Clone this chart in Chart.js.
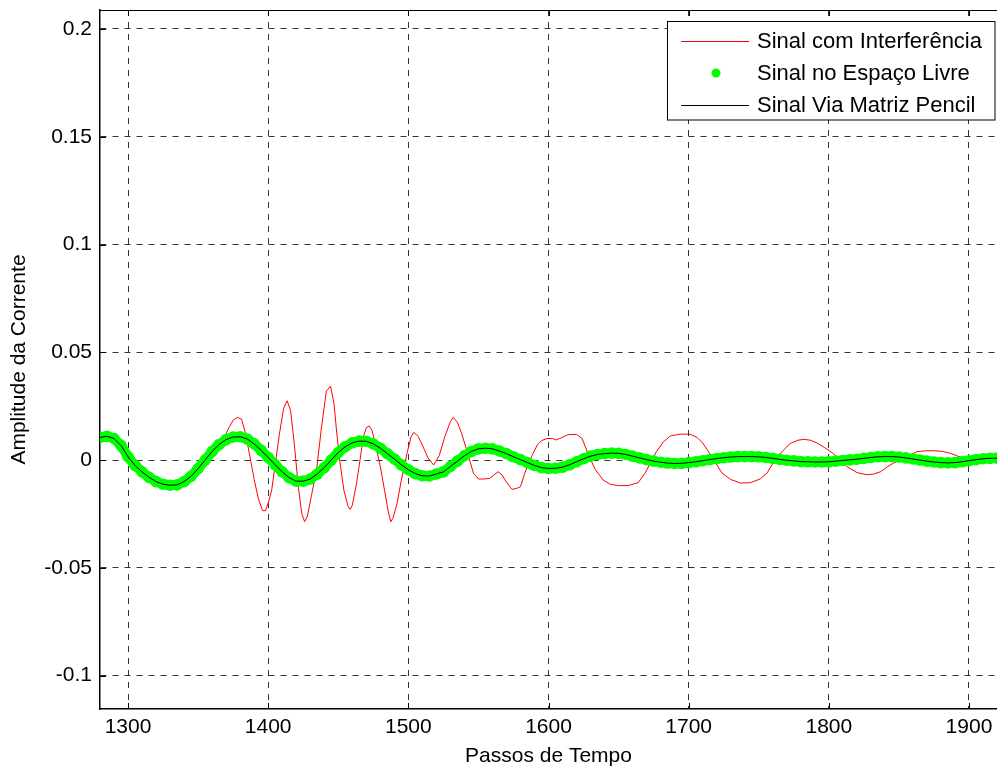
<!DOCTYPE html>
<html lang="pt">
<head>
<meta charset="UTF-8">
<title>Amplitude da Corrente</title>
<script src="https://cdn.jsdelivr.net/npm/chart.js@4.4.0/dist/chart.umd.min.js"></script>
<style>
    body { margin: 0; background: #fff; }
    canvas { display: block; }
</style>
</head>
<body>
<canvas id="sinal" width="997" height="771"></canvas>
<script>
// ticks
const xTicks = [1300, 1400, 1500, 1600, 1700, 1800, 1900];
const yTicks = [-0.1, -0.05, 0, 0.05, 0.1, 0.15, 0.2];

// free space signal, one value every 5 time steps from 1280 to 1920
const freeSteps = [];
for (let s = 1280; s <= 1920; s += 5) freeSteps.push(s);
const freeSpaceValues = [
    0.0105, 0.0110, 0.0100, 0.0068, 0.0015, -0.0025, -0.0055, -0.0080, -0.0100, -0.0112,
    -0.0117, -0.0115, -0.0100, -0.0075, -0.0040, 0.0000, 0.0040, 0.0072, 0.0095, 0.0107,
    0.0108, 0.0098, 0.0075, 0.0045, 0.0012, -0.0022, -0.0055, -0.0082, -0.0098, -0.0098,
    -0.0088, -0.0065, -0.0035, 0.0000, 0.0035, 0.0062, 0.0080, 0.0088, 0.0087, 0.0075,
    0.0055, 0.0030, 0.0005, -0.0022, -0.0045, -0.0063, -0.0073, -0.0074, -0.0065, -0.0055,
    -0.0030, -0.0005, 0.0020, 0.0040, 0.0052, 0.0055, 0.0052, 0.0042, 0.0030, 0.0015,
    0.0002, -0.0012, -0.0025, -0.0035, -0.0039, -0.0038, -0.0033, -0.0022, -0.0008, 0.0006,
    0.0018, 0.0026, 0.0030, 0.0032, 0.0031, 0.0026, 0.0018, 0.0010, 0.0002, -0.0005,
    -0.0010, -0.0014, -0.0016, -0.0015, -0.0012, -0.0008, -0.0003, 0.0002, 0.0007, 0.0011,
    0.0014, 0.0016, 0.0016, 0.0016, 0.0015, 0.0012, 0.0008, 0.0003, -0.0001, -0.0004,
    -0.0007, -0.0008, -0.0009, -0.0009, -0.0008, -0.0005, -0.0002, 0.0001, 0.0004, 0.0008,
    0.0012, 0.0015, 0.0016, 0.0016, 0.0014, 0.0010, 0.0005, 0.0000, -0.0005, -0.0009,
    -0.0012, -0.0013, -0.0012, -0.0008, -0.0003, 0.0002, 0.0006, 0.0008, 0.0009
];
// matrix pencil reconstruction sits on top of the free space signal
const pencilValues = freeSpaceValues.slice();

// signal with interference
const interfSteps = [
    1280, 1290, 1300, 1310, 1320, 1330, 1340, 1350, 1360, 1365, 1368, 1372, 1375, 1378, 1381,
    1384, 1387, 1390, 1393, 1396, 1398, 1400, 1402.5, 1405, 1408, 1411, 1413.5, 1416, 1419, 1421.5,
    1424, 1426, 1428, 1431, 1434.5, 1438, 1441.5, 1444.5, 1447, 1449, 1451, 1454, 1457, 1458.5, 1460,
    1463, 1465.5, 1468, 1470, 1472, 1474, 1477, 1480, 1483, 1486, 1487.5, 1489, 1492, 1495, 1499,
    1502, 1504, 1507, 1510.5, 1514, 1518, 1522, 1526, 1530, 1532, 1535, 1538, 1541, 1543, 1546.5,
    1550, 1554, 1558, 1561, 1564, 1567, 1569, 1572, 1574, 1577, 1580, 1583, 1586, 1589, 1592,
    1595, 1599, 1603, 1605, 1608, 1614, 1620, 1624, 1628, 1633, 1639, 1644, 1650, 1657, 1664,
    1669, 1672.6, 1677, 1682, 1687, 1694, 1701, 1706, 1710, 1716.6, 1723.7, 1730, 1737, 1744, 1751,
    1756, 1760, 1766, 1772.5, 1778, 1782, 1787, 1792, 1797, 1803, 1808, 1813, 1820, 1827, 1832,
    1837, 1842, 1846, 1851, 1855, 1863, 1869, 1875, 1881, 1887, 1892, 1896, 1900, 1905, 1910,
    1915, 1920
];
const interfValues = [
    0.0105, 0.0100, 0.0015, -0.0055, -0.0100, -0.0117, -0.0100, -0.0040, 0.0040, 0.0075, 0.0095, 0.0150, 0.0185, 0.0198, 0.0190,
    0.0120, 0.0015, -0.0090, -0.0180, -0.0235, -0.0235, -0.0200, -0.0140, -0.0020, 0.0120, 0.0240, 0.0275, 0.0230, 0.0050, -0.0124,
    -0.0250, -0.0286, -0.0260, -0.0160, -0.0046, 0.0150, 0.0320, 0.0343, 0.0260, 0.0120, 0.0000, -0.0140, -0.0215, -0.0229, -0.0210,
    -0.0110, 0.0000, 0.0110, 0.0150, 0.0158, 0.0140, 0.0060, -0.0030, -0.0140, -0.0250, -0.0286, -0.0270, -0.0200, -0.0093, 0.0030,
    0.0110, 0.0128, 0.0110, 0.0062, 0.0010, -0.0023, 0.0020, 0.0108, 0.0178, 0.0198, 0.0175, 0.0124, 0.0060, 0.0015, -0.0062,
    -0.0088, -0.0088, -0.0085, -0.0070, -0.0054, -0.0070, -0.0093, -0.0120, -0.0136, -0.0132, -0.0124, -0.0062, -0.0010, 0.0031, 0.0070,
    0.0090, 0.0100, 0.0100, 0.0093, 0.0100, 0.0118, 0.0119, 0.0100, 0.0032, -0.0040, -0.0093, -0.0112, -0.0119, -0.0118, -0.0105,
    -0.0060, -0.0015, 0.0039, 0.0085, 0.0112, 0.0120, 0.0120, 0.0105, 0.0079, 0.0015, -0.0060, -0.0090, -0.0107, -0.0105, -0.0088,
    -0.0060, -0.0015, 0.0035, 0.0077, 0.0092, 0.0096, 0.0092, 0.0078, 0.0058, 0.0031, 0.0000, -0.0030, -0.0058, -0.0068, -0.0065,
    -0.0054, -0.0030, -0.0015, 0.0002, 0.0015, 0.0039, 0.0043, 0.0043, 0.0040, 0.0031, 0.0018, 0.0008, -0.0002, -0.0002, 0.0003,
    0.0006, 0.0008
];

const legendItems = ['Sinal com Interferência', 'Sinal no Espaço Livre', 'Sinal Via Matriz Pencil'];
const FONT = '"Liberation Sans", Arial, Helvetica, sans-serif';

function pairs(xs, ys) {
    return xs.map((x, i) => ({ x: x, y: ys[i] }));
}

// legend box, top frame and the small inner tick marks (matlab style)
const framePlugin = {
    id: 'frame',
    afterDraw(chart) {
        const ctx = chart.ctx;
        const a = chart.chartArea;
        const xs = chart.scales.x, ys = chart.scales.y;
        ctx.save();
        ctx.strokeStyle = '#000';
        ctx.lineWidth = 1;
        ctx.beginPath();
        ctx.moveTo(a.left, a.top + 0.5);
        ctx.lineTo(a.right, a.top + 0.5);
        xTicks.forEach(v => {
            const px = Math.round(xs.getPixelForValue(v)) + 0.5;
            ctx.moveTo(px, a.bottom); ctx.lineTo(px, a.bottom - 6);
            ctx.moveTo(px, a.top); ctx.lineTo(px, a.top + 6);
        });
        yTicks.forEach(v => {
            const py = Math.round(ys.getPixelForValue(v)) + 0.5;
            ctx.moveTo(a.left, py); ctx.lineTo(a.left + 6, py);
        });
        ctx.stroke();

        // legend
        const bx = 667.5, by = 21.5, bw = 327.5, bh = 98.5;
        ctx.fillStyle = '#fff';
        ctx.fillRect(bx, by, bw, bh);
        ctx.strokeRect(bx, by, bw, bh);
        const rows = [41, 73, 105];
        ctx.lineWidth = 1;
        ctx.strokeStyle = '#ff0000';
        ctx.beginPath(); ctx.moveTo(681, rows[0] + 0.5); ctx.lineTo(749, rows[0] + 0.5); ctx.stroke();
        ctx.fillStyle = '#00ff00';
        ctx.beginPath(); ctx.arc(716, rows[1], 4.5, 0, Math.PI * 2); ctx.fill();
        ctx.strokeStyle = '#000';
        ctx.beginPath(); ctx.moveTo(681, rows[2] + 0.5); ctx.lineTo(749, rows[2] + 0.5); ctx.stroke();
        ctx.fillStyle = '#000';
        ctx.font = '22px ' + FONT;
        ctx.textBaseline = 'middle';
        legendItems.forEach((t, i) => ctx.fillText(t, 757, rows[i] + 1));
        ctx.restore();
    }
};

new Chart(document.getElementById('sinal'), {
    type: 'scatter',
    data: {
        datasets: [
            {
                label: legendItems[0],
                data: pairs(interfSteps, interfValues),
                showLine: true,
                borderColor: '#ff0000',
                borderWidth: 1,
                pointRadius: 0,
                order: 3
            },
            {
                // dense matlab dot markers merge into a thick band
                label: legendItems[1],
                data: pairs(freeSteps, freeSpaceValues),
                showLine: true,
                borderColor: '#00ff00',
                borderWidth: 10,
                backgroundColor: '#00ff00',
                pointBorderWidth: 0,
                pointRadius: 5.8,
                order: 2
            },
            {
                label: legendItems[2],
                data: pairs(freeSteps, pencilValues),
                showLine: true,
                borderColor: '#000',
                borderWidth: 1,
                pointRadius: 0,
                order: 1
            }
        ]
    },
    options: {
        responsive: false,
        animation: false,
        layout: { autoPadding: false, padding: { top: 10, right: 0, left: 0, bottom: 0 } },
        plugins: { legend: { display: false }, tooltip: { enabled: false } },
        scales: {
            x: {
                type: 'linear',
                min: 1280,
                max: 1920,
                afterFit: s => { s.height = 62; s.paddingLeft = 0; s.paddingRight = 0; },
                afterBuildTicks: s => { s.ticks = xTicks.map(v => ({ value: v })); },
                ticks: {
                    color: '#000',
                    font: { family: FONT, size: 21 },
                    padding: 6,
                    maxRotation: 0,
                    callback: v => String(v)
                },
                grid: { color: '#333', drawTicks: false, lineWidth: 1 },
                border: { display: true, color: '#000', width: 1.5, dash: [6, 6] },
                title: {
                    display: true,
                    text: 'Passos de Tempo',
                    color: '#000',
                    font: { family: FONT, size: 21 },
                    padding: { top: 0, bottom: 2 }
                }
            },
            y: {
                min: -0.1155,
                max: 0.2088,
                afterFit: s => { s.width = 100; s.paddingTop = 0; s.paddingBottom = 0; },
                afterBuildTicks: s => { s.ticks = yTicks.map(v => ({ value: v })); },
                ticks: {
                    color: '#000',
                    font: { family: FONT, size: 21 },
                    padding: 8,
                    callback: v => String(v)
                },
                grid: { color: '#333', drawTicks: false, lineWidth: 1 },
                border: { display: true, color: '#000', width: 1.5, dash: [6, 6] },
                title: {
                    display: true,
                    text: 'Amplitude da Corrente',
                    color: '#000',
                    font: { family: FONT, size: 21 },
                    padding: { top: 7, bottom: 0 }
                }
            }
        }
    },
    plugins: [framePlugin]
});
</script>
</body>
</html>
